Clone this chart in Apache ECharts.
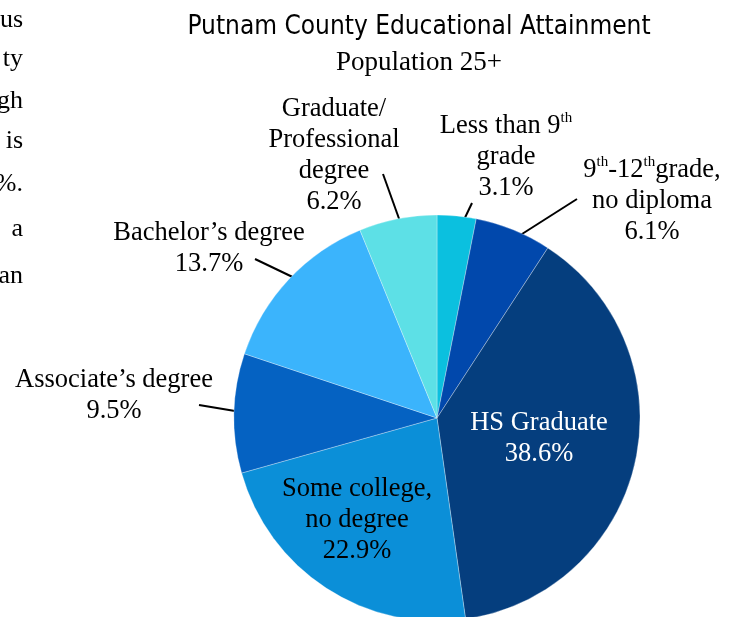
<!DOCTYPE html>
<html>
<head>
<meta charset="utf-8">
<script src="https://cdn.jsdelivr.net/npm/echarts@6/dist/echarts.min.js"></script>
<style>
  html, body { margin: 0; padding: 0; background: #fff; }
  #chart { width: 744px; height: 617px; }
</style>
</head>
<body>
<div id="chart"></div>
<script>
// categories, clockwise from 12 o'clock
var categories = [
  "Less than 9th grade",
  "9th-12th grade, no diploma",
  "HS Graduate",
  "Some college, no degree",
  "Associate's degree",
  "Bachelor's degree",
  "Graduate/Professional degree",
];
// share of population 25+ (%)
var shares = [3.1, 6.1, 38.6, 22.9, 9.5, 13.7, 6.2];
// label text (before the value)
var labelTexts = [
  "Less than 9{sup|th}\ngrade",
  "9{sup|th}-12{sup|th}grade,\nno diploma",
  "HS Graduate",
  "Some college,\nno degree",
  "Associate\u2019s degree",
  "Bachelor\u2019s degree",
  "Graduate/\nProfessional\ndegree",
];
var colors = ["#0bc0df", "#0148ac", "#053e7e", "#0b8fd8", "#0562c2", "#3bb4fc", "#5de0e6"];

// text fragments from the page body, cut off at the left edge
var sideText = ["us", "ty", "gh", "is", "%.", "a", "an"];
var sideTextY = [20, 59, 101, 141, 184, 229, 276];

// where each label sits and where its leader line runs (pixels)
var labelPos = [
  [506, 157], [652, 201], [539, 439], [357, 520], [114, 396], [209, 249], [334, 156],
];
var linePts = [
  [[472, 203], [461, 226]],
  [[577, 199], [511, 241]],
  null,
  null,
  [[199, 405], [247, 413]],
  [[255, 259], [303, 282]],
  [[383, 174], [402, 227]],
];

var chart = echarts.init(document.getElementById("chart"));

var serif = "'Liberation Serif', 'Times New Roman', serif";

chart.setOption({
  animation: false,
  title: {
    text: "Putnam County Educational Attainment",
    subtext: "Population 25+",
    left: 414,
    top: 9,
    textAlign: "center",
    itemGap: 9,
    textStyle: {
      fontFamily: "'DejaVu Sans Condensed', 'DejaVu Sans', sans-serif",
      fontSize: 26,
      fontWeight: "normal",
      color: "#000",
    },
    subtextStyle: {
      fontFamily: serif,
      fontSize: 27,
      color: "#000",
    },
  },
  graphic: sideText.map(function (t, i) {
    return {
      type: "text",
      x: 23,
      y: sideTextY[i],
      style: {
        text: t,
        font: "26px " + serif,
        fill: "#000",
        align: "right",
        verticalAlign: "middle",
      },
    };
  }),
  series: [
    {
      type: "pie",
      center: [437, 418],
      radius: 203,
      startAngle: 90,
      clockwise: true,
      avoidLabelOverlap: false,
      itemStyle: {
        borderColor: "rgba(255,255,255,0.5)",
        borderWidth: 0.6,
      },
      label: {
        show: true,
        position: "outside",
        fontFamily: serif,
        fontSize: 26.5,
        lineHeight: 31,
        color: "#000",
        align: "center",
        formatter: function (p) {
          return labelTexts[p.dataIndex] + "\n" + p.value + "%";
        },
        rich: {
          sup: {
            fontFamily: serif,
            fontSize: 15,
            lineHeight: 31,
            verticalAlign: "top",
            color: "#000",
          },
        },
      },
      labelLine: {
        show: true,
        lineStyle: { color: "#000", width: 2 },
      },
      labelLayout: function (params) {
        var i = params.dataIndex;
        var out = {
          x: labelPos[i][0],
          y: labelPos[i][1],
          align: "center",
          verticalAlign: "middle",
        };
        if (linePts[i]) {
          out.labelLinePoints = linePts[i];
        }
        return out;
      },
      data: categories.map(function (name, i) {
        var d = {
          name: name,
          value: shares[i],
          itemStyle: { color: colors[i] },
        };
        if (i === 2) {
          d.label = { color: "#fff", rich: { sup: { color: "#fff" } } };
          d.labelLine = { show: false };
        }
        if (i === 3) {
          d.labelLine = { show: false };
        }
        return d;
      }),
    },
  ],
});
</script>
</body>
</html>
